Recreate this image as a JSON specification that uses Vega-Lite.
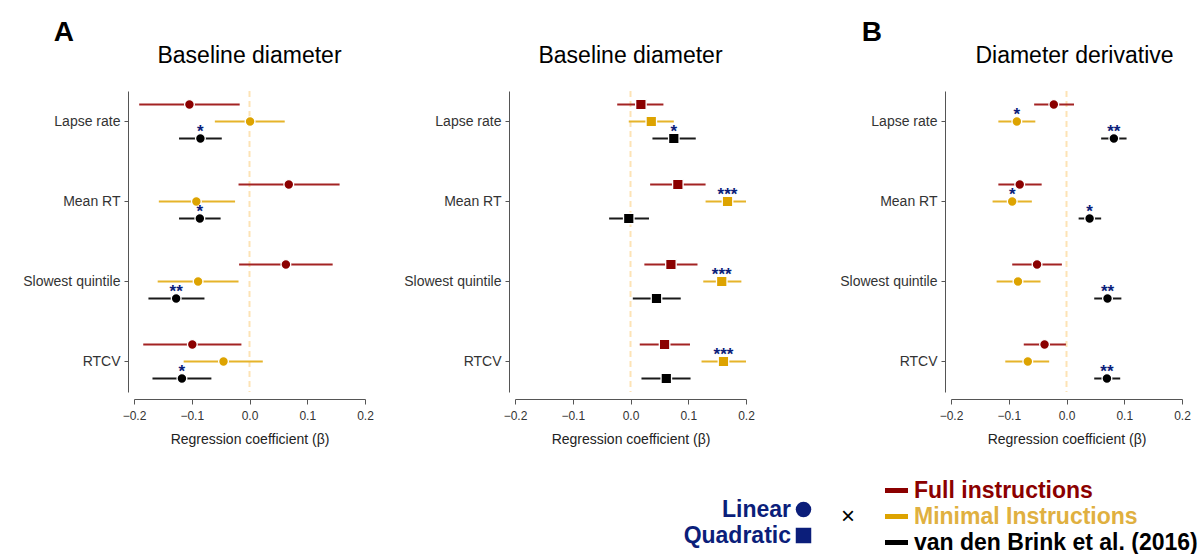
{
  "$schema": "https://vega.github.io/schema/vega-lite/v6.json",
  "background": "white",
  "padding": {"left": 22, "top": 18, "right": 0, "bottom": 0},
  "datasets": {
    "coef": [
      {"panel": "p1", "model": "Linear", "measure": "Lapse rate", "group": "Full instructions", "est": -0.104, "lo": -0.191, "hi": -0.017, "sig": ""},
      {"panel": "p1", "model": "Linear", "measure": "Lapse rate", "group": "Minimal Instructions", "est": 0.001, "lo": -0.060, "hi": 0.061, "sig": ""},
      {"panel": "p1", "model": "Linear", "measure": "Lapse rate", "group": "van den Brink et al. (2016)", "est": -0.085, "lo": -0.122, "hi": -0.048, "sig": "*"},
      {"panel": "p1", "model": "Linear", "measure": "Mean RT", "group": "Full instructions", "est": 0.068, "lo": -0.019, "hi": 0.156, "sig": ""},
      {"panel": "p1", "model": "Linear", "measure": "Mean RT", "group": "Minimal Instructions", "est": -0.092, "lo": -0.157, "hi": -0.025, "sig": ""},
      {"panel": "p1", "model": "Linear", "measure": "Mean RT", "group": "van den Brink et al. (2016)", "est": -0.086, "lo": -0.122, "hi": -0.050, "sig": "*"},
      {"panel": "p1", "model": "Linear", "measure": "Slowest quintile", "group": "Full instructions", "est": 0.063, "lo": -0.018, "hi": 0.144, "sig": ""},
      {"panel": "p1", "model": "Linear", "measure": "Slowest quintile", "group": "Minimal Instructions", "est": -0.089, "lo": -0.159, "hi": -0.019, "sig": ""},
      {"panel": "p1", "model": "Linear", "measure": "Slowest quintile", "group": "van den Brink et al. (2016)", "est": -0.127, "lo": -0.175, "hi": -0.078, "sig": "**"},
      {"panel": "p1", "model": "Linear", "measure": "RTCV", "group": "Full instructions", "est": -0.099, "lo": -0.184, "hi": -0.014, "sig": ""},
      {"panel": "p1", "model": "Linear", "measure": "RTCV", "group": "Minimal Instructions", "est": -0.045, "lo": -0.114, "hi": 0.023, "sig": ""},
      {"panel": "p1", "model": "Linear", "measure": "RTCV", "group": "van den Brink et al. (2016)", "est": -0.117, "lo": -0.168, "hi": -0.066, "sig": "*"},
      {"panel": "p2", "model": "Quadratic", "measure": "Lapse rate", "group": "Full instructions", "est": 0.018, "lo": -0.023, "hi": 0.057, "sig": ""},
      {"panel": "p2", "model": "Quadratic", "measure": "Lapse rate", "group": "Minimal Instructions", "est": 0.036, "lo": -0.003, "hi": 0.075, "sig": ""},
      {"panel": "p2", "model": "Quadratic", "measure": "Lapse rate", "group": "van den Brink et al. (2016)", "est": 0.075, "lo": 0.038, "hi": 0.113, "sig": "*"},
      {"panel": "p2", "model": "Quadratic", "measure": "Mean RT", "group": "Full instructions", "est": 0.082, "lo": 0.034, "hi": 0.130, "sig": ""},
      {"panel": "p2", "model": "Quadratic", "measure": "Mean RT", "group": "Minimal Instructions", "est": 0.168, "lo": 0.130, "hi": 0.200, "sig": "***"},
      {"panel": "p2", "model": "Quadratic", "measure": "Mean RT", "group": "van den Brink et al. (2016)", "est": -0.003, "lo": -0.037, "hi": 0.032, "sig": ""},
      {"panel": "p2", "model": "Quadratic", "measure": "Slowest quintile", "group": "Full instructions", "est": 0.070, "lo": 0.024, "hi": 0.116, "sig": ""},
      {"panel": "p2", "model": "Quadratic", "measure": "Slowest quintile", "group": "Minimal Instructions", "est": 0.158, "lo": 0.126, "hi": 0.192, "sig": "***"},
      {"panel": "p2", "model": "Quadratic", "measure": "Slowest quintile", "group": "van den Brink et al. (2016)", "est": 0.045, "lo": 0.004, "hi": 0.087, "sig": ""},
      {"panel": "p2", "model": "Quadratic", "measure": "RTCV", "group": "Full instructions", "est": 0.059, "lo": 0.016, "hi": 0.103, "sig": ""},
      {"panel": "p2", "model": "Quadratic", "measure": "RTCV", "group": "Minimal Instructions", "est": 0.161, "lo": 0.123, "hi": 0.200, "sig": "***"},
      {"panel": "p2", "model": "Quadratic", "measure": "RTCV", "group": "van den Brink et al. (2016)", "est": 0.062, "lo": 0.019, "hi": 0.104, "sig": ""},
      {"panel": "p3", "model": "Linear", "measure": "Lapse rate", "group": "Full instructions", "est": -0.022, "lo": -0.056, "hi": 0.013, "sig": ""},
      {"panel": "p3", "model": "Linear", "measure": "Lapse rate", "group": "Minimal Instructions", "est": -0.086, "lo": -0.118, "hi": -0.054, "sig": "*"},
      {"panel": "p3", "model": "Linear", "measure": "Lapse rate", "group": "van den Brink et al. (2016)", "est": 0.082, "lo": 0.060, "hi": 0.104, "sig": "**"},
      {"panel": "p3", "model": "Linear", "measure": "Mean RT", "group": "Full instructions", "est": -0.081, "lo": -0.118, "hi": -0.043, "sig": ""},
      {"panel": "p3", "model": "Linear", "measure": "Mean RT", "group": "Minimal Instructions", "est": -0.094, "lo": -0.128, "hi": -0.060, "sig": "*"},
      {"panel": "p3", "model": "Linear", "measure": "Mean RT", "group": "van den Brink et al. (2016)", "est": 0.040, "lo": 0.021, "hi": 0.060, "sig": "*"},
      {"panel": "p3", "model": "Linear", "measure": "Slowest quintile", "group": "Full instructions", "est": -0.051, "lo": -0.094, "hi": -0.008, "sig": ""},
      {"panel": "p3", "model": "Linear", "measure": "Slowest quintile", "group": "Minimal Instructions", "est": -0.084, "lo": -0.121, "hi": -0.045, "sig": ""},
      {"panel": "p3", "model": "Linear", "measure": "Slowest quintile", "group": "van den Brink et al. (2016)", "est": 0.071, "lo": 0.048, "hi": 0.095, "sig": "**"},
      {"panel": "p3", "model": "Linear", "measure": "RTCV", "group": "Full instructions", "est": -0.038, "lo": -0.074, "hi": -0.001, "sig": ""},
      {"panel": "p3", "model": "Linear", "measure": "RTCV", "group": "Minimal Instructions", "est": -0.067, "lo": -0.106, "hi": -0.030, "sig": ""},
      {"panel": "p3", "model": "Linear", "measure": "RTCV", "group": "van den Brink et al. (2016)", "est": 0.070, "lo": 0.048, "hi": 0.093, "sig": "**"}
    ]
  },
  "data": {"name": "coef"},
  "spacing": 27,
  "resolve": {"scale": {"color": "independent", "shape": "independent", "stroke": "independent"}, "legend": {"color": "independent", "shape": "independent", "stroke": "independent"}},
  "hconcat": [
    {
      "title": {"text": "A", "anchor": "start", "fontSize": 28, "fontWeight": "bold", "font": "Liberation Sans", "color": "#000000", "dx": 31, "offset": -24, "baseline": "alphabetic"},
      "spacing": 29,
      "resolve": {"scale": {"color": "independent", "shape": "independent", "stroke": "independent"}, "legend": {"color": "independent", "shape": "independent", "stroke": "independent"}},
      "hconcat": [
        {
          "width": 231, "height": 301,
          "title": {"text": "Baseline diameter", "frame": "group", "anchor": "middle", "fontSize": 23, "font": "Liberation Sans", "fontWeight": "normal", "color": "#000000", "offset": 3, "baseline": "alphabetic"},
          "layer": [
            {"data": {"values": [{"z": 0}]}, "mark": {"type": "rule", "color": "#FDE3B5", "strokeWidth": 2, "strokeDash": [6, 4]}, "encoding": {"x": {"field": "z", "type": "quantitative", "scale": {"domain": [-0.2, 0.2], "nice": false, "zero": false}, "title": "Regression coefficient (β)", "axis": {"values": [-0.2, -0.1, 0, 0.1, 0.2], "format": ".1f"}}}},
            {"transform": [{"filter": "datum.panel === 'p1'"}], "mark": {"type": "rule", "strokeWidth": 2}, "encoding": {
              "x": {"field": "lo", "type": "quantitative", "title": "Regression coefficient (β)"}, "x2": {"field": "hi"},
              "y": {"field": "measure", "type": "nominal", "scale": {"type": "band", "paddingInner": 1, "paddingOuter": 0.38125, "domain": ["Lapse rate", "Mean RT", "Slowest quintile", "RTCV"]}, "title": null},
              "yOffset": {"field": "group", "type": "nominal", "scale": {"type": "point", "padding": 0, "domain": ["Full instructions", "Minimal Instructions", "van den Brink et al. (2016)"], "range": [-17, 17]}},
              "stroke": {"field": "group", "type": "nominal", "scale": {"domain": ["Minimal Instructions", "Full instructions", "van den Brink et al. (2016)"], "range": ["#E6B42A", "#A32323", "#1A1A1A"]}, "legend": null}}},
            {"transform": [{"filter": "datum.panel === 'p1'"}], "mark": {"type": "point", "filled": true, "opacity": 1, "stroke": "white", "strokeWidth": 1.3, "strokeOpacity": 1, "size": 95}, "encoding": {
              "x": {"field": "est", "type": "quantitative", "title": "Regression coefficient (β)"},
              "y": {"field": "measure", "type": "nominal", "scale": {"type": "band", "paddingInner": 1, "paddingOuter": 0.38125, "domain": ["Lapse rate", "Mean RT", "Slowest quintile", "RTCV"]}, "title": null},
              "yOffset": {"field": "group", "type": "nominal", "scale": {"type": "point", "padding": 0, "domain": ["Full instructions", "Minimal Instructions", "van den Brink et al. (2016)"], "range": [-17, 17]}},
              "color": {"field": "group", "type": "nominal", "scale": {"domain": ["Full instructions", "Minimal Instructions", "van den Brink et al. (2016)"], "range": ["#8B0000", "#DDA300", "#000000"]}, "legend": null},
              "shape": {"field": "model", "type": "nominal", "scale": {"domain": ["Linear", "Quadratic"], "range": ["circle", "square"]}, "legend": null}}},
            {"transform": [{"filter": "datum.panel === 'p1'"}], "mark": {"type": "text", "font": "Liberation Sans", "fontSize": 17, "fontWeight": "bold", "color": "#0B1E7A", "baseline": "alphabetic", "align": "center", "dy": -2}, "encoding": {
              "x": {"field": "est", "type": "quantitative", "title": "Regression coefficient (β)"},
              "y": {"field": "measure", "type": "nominal", "scale": {"type": "band", "paddingInner": 1, "paddingOuter": 0.38125, "domain": ["Lapse rate", "Mean RT", "Slowest quintile", "RTCV"]}, "title": null},
              "yOffset": {"field": "group", "type": "nominal", "scale": {"type": "point", "padding": 0, "domain": ["Full instructions", "Minimal Instructions", "van den Brink et al. (2016)"], "range": [-17, 17]}},
              "text": {"field": "sig"}}}
          ]
        },
        {
          "width": 231, "height": 301,
          "title": {"text": "Baseline diameter", "frame": "group", "anchor": "middle", "fontSize": 23, "font": "Liberation Sans", "fontWeight": "normal", "color": "#000000", "offset": 3, "baseline": "alphabetic"},
          "layer": [
            {"data": {"values": [{"z": 0}]}, "mark": {"type": "rule", "color": "#FDE3B5", "strokeWidth": 2, "strokeDash": [6, 4]}, "encoding": {"x": {"field": "z", "type": "quantitative", "scale": {"domain": [-0.2, 0.2], "nice": false, "zero": false}, "title": "Regression coefficient (β)", "axis": {"values": [-0.2, -0.1, 0, 0.1, 0.2], "format": ".1f"}}}},
            {"transform": [{"filter": "datum.panel === 'p2'"}], "mark": {"type": "rule", "strokeWidth": 2}, "encoding": {
              "x": {"field": "lo", "type": "quantitative", "title": "Regression coefficient (β)"}, "x2": {"field": "hi"},
              "y": {"field": "measure", "type": "nominal", "scale": {"type": "band", "paddingInner": 1, "paddingOuter": 0.38125, "domain": ["Lapse rate", "Mean RT", "Slowest quintile", "RTCV"]}, "title": null},
              "yOffset": {"field": "group", "type": "nominal", "scale": {"type": "point", "padding": 0, "domain": ["Full instructions", "Minimal Instructions", "van den Brink et al. (2016)"], "range": [-17, 17]}},
              "stroke": {"field": "group", "type": "nominal", "scale": {"domain": ["Minimal Instructions", "Full instructions", "van den Brink et al. (2016)"], "range": ["#E6B42A", "#A32323", "#1A1A1A"]}, "legend": null}}},
            {"transform": [{"filter": "datum.panel === 'p2'"}], "mark": {"type": "point", "filled": true, "opacity": 1, "stroke": "white", "strokeWidth": 1.3, "strokeOpacity": 1, "size": 110}, "encoding": {
              "x": {"field": "est", "type": "quantitative", "title": "Regression coefficient (β)"},
              "y": {"field": "measure", "type": "nominal", "scale": {"type": "band", "paddingInner": 1, "paddingOuter": 0.38125, "domain": ["Lapse rate", "Mean RT", "Slowest quintile", "RTCV"]}, "title": null},
              "yOffset": {"field": "group", "type": "nominal", "scale": {"type": "point", "padding": 0, "domain": ["Full instructions", "Minimal Instructions", "van den Brink et al. (2016)"], "range": [-17, 17]}},
              "color": {"field": "group", "type": "nominal", "scale": {"domain": ["Full instructions", "Minimal Instructions", "van den Brink et al. (2016)"], "range": ["#8B0000", "#DDA300", "#000000"]}, "legend": null},
              "shape": {"field": "model", "type": "nominal", "scale": {"domain": ["Linear", "Quadratic"], "range": ["circle", "square"]},
                "legend": {"orient": "none", "legendX": 277, "legendY": 407, "title": null, "labelAlign": "right", "labelOffset": -24, "labelFont": "Liberation Sans", "labelFontSize": 23, "labelFontWeight": "bold", "labelColor": "#0B1E7A", "labelLimit": 300, "symbolSize": 240, "symbolFillColor": "#0B1E7A", "symbolStrokeWidth": 0, "rowPadding": 2}}}},
            {"transform": [{"filter": "datum.panel === 'p2'"}], "mark": {"type": "text", "font": "Liberation Sans", "fontSize": 17, "fontWeight": "bold", "color": "#0B1E7A", "baseline": "alphabetic", "align": "center", "dy": -2}, "encoding": {
              "x": {"field": "est", "type": "quantitative", "title": "Regression coefficient (β)"},
              "y": {"field": "measure", "type": "nominal", "scale": {"type": "band", "paddingInner": 1, "paddingOuter": 0.38125, "domain": ["Lapse rate", "Mean RT", "Slowest quintile", "RTCV"]}, "title": null},
              "yOffset": {"field": "group", "type": "nominal", "scale": {"type": "point", "padding": 0, "domain": ["Full instructions", "Minimal Instructions", "van den Brink et al. (2016)"], "range": [-17, 17]}},
              "text": {"field": "sig"}}}
          ]
        }
      ]
    },
    {
      "title": {"text": "B", "anchor": "start", "fontSize": 28, "fontWeight": "bold", "font": "Liberation Sans", "color": "#000000", "dx": 22, "offset": -24, "baseline": "alphabetic"},
      "resolve": {"scale": {"color": "independent", "shape": "independent", "stroke": "independent"}, "legend": {"color": "independent", "shape": "independent", "stroke": "independent"}},
      "vconcat": [
        {
          "width": 231, "height": 301,
          "title": {"text": "Diameter derivative", "frame": "group", "anchor": "middle", "fontSize": 23, "font": "Liberation Sans", "fontWeight": "normal", "color": "#000000", "offset": 3, "baseline": "alphabetic", "dx": 8},
          "layer": [
            {"data": {"values": [{"z": 0}]}, "mark": {"type": "rule", "color": "#FDE3B5", "strokeWidth": 2, "strokeDash": [6, 4]}, "encoding": {"x": {"field": "z", "type": "quantitative", "scale": {"domain": [-0.2, 0.2], "nice": false, "zero": false}, "title": "Regression coefficient (β)", "axis": {"values": [-0.2, -0.1, 0, 0.1, 0.2], "format": ".1f"}}}},
            {"transform": [{"filter": "datum.panel === 'p3'"}], "mark": {"type": "rule", "strokeWidth": 2}, "encoding": {
              "x": {"field": "lo", "type": "quantitative", "title": "Regression coefficient (β)"}, "x2": {"field": "hi"},
              "y": {"field": "measure", "type": "nominal", "scale": {"type": "band", "paddingInner": 1, "paddingOuter": 0.38125, "domain": ["Lapse rate", "Mean RT", "Slowest quintile", "RTCV"]}, "title": null},
              "yOffset": {"field": "group", "type": "nominal", "scale": {"type": "point", "padding": 0, "domain": ["Full instructions", "Minimal Instructions", "van den Brink et al. (2016)"], "range": [-17, 17]}},
              "stroke": {"field": "group", "type": "nominal", "scale": {"domain": ["Minimal Instructions", "Full instructions", "van den Brink et al. (2016)"], "range": ["#E6B42A", "#A32323", "#1A1A1A"]}, "legend": null}}},
            {"transform": [{"filter": "datum.panel === 'p3'"}], "mark": {"type": "point", "filled": true, "opacity": 1, "stroke": "white", "strokeWidth": 1.3, "strokeOpacity": 1, "size": 95}, "encoding": {
              "x": {"field": "est", "type": "quantitative", "title": "Regression coefficient (β)"},
              "y": {"field": "measure", "type": "nominal", "scale": {"type": "band", "paddingInner": 1, "paddingOuter": 0.38125, "domain": ["Lapse rate", "Mean RT", "Slowest quintile", "RTCV"]}, "title": null},
              "yOffset": {"field": "group", "type": "nominal", "scale": {"type": "point", "padding": 0, "domain": ["Full instructions", "Minimal Instructions", "van den Brink et al. (2016)"], "range": [-17, 17]}},
              "color": {"field": "group", "type": "nominal", "scale": {"domain": ["Full instructions", "Minimal Instructions", "van den Brink et al. (2016)"], "range": ["#8B0000", "#DDA300", "#000000"]},
                "legend": {"orient": "none", "legendX": -110, "legendY": 388, "title": "×", "titleOrient": "left", "titleFont": "Liberation Sans", "titleFontSize": 24, "titleFontWeight": "normal", "titleColor": "#000000", "titlePadding": 29, "titleAnchor": "middle", "titleBaseline": "middle",
                  "labelFont": "Liberation Sans", "labelFontSize": 23, "labelFontWeight": "bold", "labelLimit": 400, "labelOffset": 6, "rowPadding": 2,
                  "labelColor": {"expr": "datum.value === 'Full instructions' ? '#8B0000' : datum.value === 'Minimal Instructions' ? '#E0B040' : '#000000'"},
                  "symbolType": "M-1,-0.22H1V0.22H-1Z", "symbolSize": 529, "symbolStrokeWidth": 0}},
              "shape": {"field": "model", "type": "nominal", "scale": {"domain": ["Linear", "Quadratic"], "range": ["circle", "square"]}, "legend": null}}},
            {"transform": [{"filter": "datum.panel === 'p3'"}], "mark": {"type": "text", "font": "Liberation Sans", "fontSize": 17, "fontWeight": "bold", "color": "#0B1E7A", "baseline": "alphabetic", "align": "center", "dy": -2}, "encoding": {
              "x": {"field": "est", "type": "quantitative", "title": "Regression coefficient (β)"},
              "y": {"field": "measure", "type": "nominal", "scale": {"type": "band", "paddingInner": 1, "paddingOuter": 0.38125, "domain": ["Lapse rate", "Mean RT", "Slowest quintile", "RTCV"]}, "title": null},
              "yOffset": {"field": "group", "type": "nominal", "scale": {"type": "point", "padding": 0, "domain": ["Full instructions", "Minimal Instructions", "van den Brink et al. (2016)"], "range": [-17, 17]}},
              "text": {"field": "sig"}}}
          ]
        }
      ]
    }
  ],
  "config": {
    "font": "Liberation Sans",
    "view": {"stroke": null},
    "axis": {"grid": false, "domainColor": "#555555", "tickColor": "#555555", "labelColor": "#333333", "titleColor": "#222222", "labelFont": "Liberation Sans", "titleFont": "Liberation Sans", "titleFontWeight": "normal", "domainWidth": 1, "tickWidth": 1},
    "axisX": {"offset": 7, "tickSize": 5, "labelFontSize": 12, "labelPadding": 6, "titleFontSize": 14, "titlePadding": 11, "labelFlush": false},
    "axisY": {"offset": 6, "tickSize": 4, "labelFontSize": 14, "labelPadding": 4}
  }
}
